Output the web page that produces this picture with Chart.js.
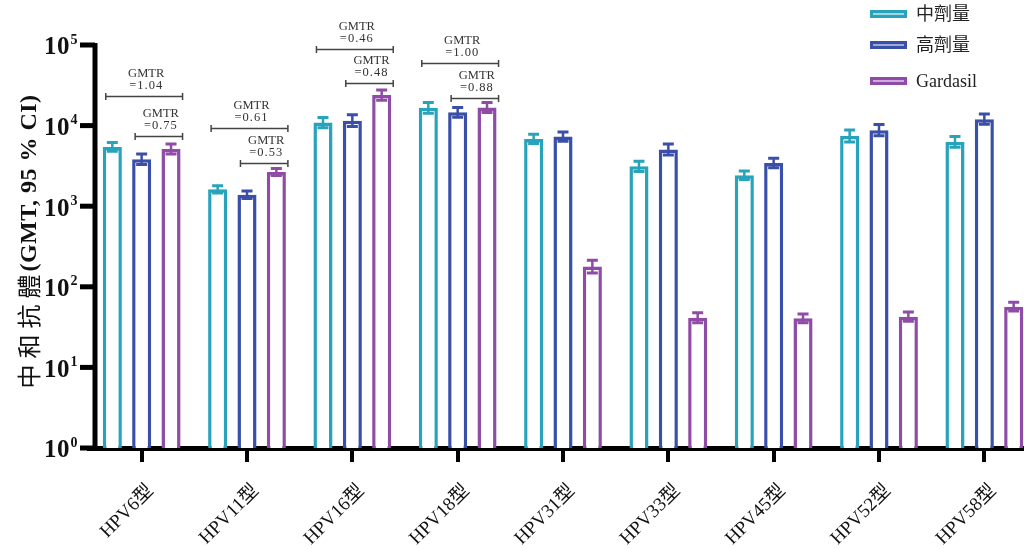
<!DOCTYPE html>
<html>
<head>
<meta charset="utf-8">
<script src="https://cdn.jsdelivr.net/npm/chart.js@4"></script>
<style>
  html, body { margin: 0; padding: 0; background: #fff; overflow: hidden; }
  #wrap { width: 1024px; height: 549px; overflow: hidden; }
</style>
</head>
<body>
<div id="wrap"><canvas id="chart" width="1040" height="549"></canvas></div>
<script>
// categories and series
const types = ['HPV6型', 'HPV11型', 'HPV16型', 'HPV18型', 'HPV31型', 'HPV33型', 'HPV45型', 'HPV52型', 'HPV58型'];
const seriesNames = ['中劑量', '高劑量', 'Gardasil'];

const midDose   = [5430, 1620, 10900, 16600, 6840, 3120, 2420, 7450, 6270];
const midHigh   = [6160, 1800, 12600, 19400, 7820, 3610, 2730, 8850, 7310];
const midLow    = [4790, 1460, 9430, 14200, 5980, 2700, 2150, 6270, 5380];

const highDose  = [3820, 1390, 11500, 14600, 7310, 5050, 3440, 8770, 12000];
const highHigh  = [4450, 1540, 13600, 16800, 8350, 5920, 3930, 10300, 13900];
const highLow   = [3280, 1250, 9720, 12700, 6400, 4310, 3010, 7470, 10360];

const gardasil  = [5130, 2660, 23900, 16800, 178, 41.4, 40.6, 42.6, 56.7];
const gardHigh  = [5920, 2930, 27600, 19400, 214, 47.7, 46, 48.7, 64.2];
const gardLow   = [4450, 2410, 20700, 14500, 148, 35.9, 35.8, 37.3, 50.1];

const yTicks = [1, 10, 100, 1000, 10000, 100000];

// GMTR comparisons: category, first series, last series, text, bracket level
const gmtrCategory = [0, 0, 1, 1, 2, 2, 3, 3];
const gmtrFrom     = [0, 1, 0, 1, 0, 1, 0, 1];
const gmtrTo       = [2, 2, 2, 2, 2, 2, 2, 2];
const gmtrText     = ['=1.04', '=0.75', '=0.61', '=0.53', '=0.46', '=0.48', '=1.00', '=0.88'];
const gmtrLevel    = [23000, 7450, 9360, 3475, 89100, 33960, 60260, 22120];

const colors = ['#27a3bb', '#3a4fa7', '#8f4ca6'];
const tints  = ['#9fd6e0', '#9fa9d6', '#cfa9dc'];
const errHigh = [midHigh, highHigh, gardHigh];
const errLow  = [midLow, highLow, gardLow];

const serif = "'Liberation Serif', 'Times New Roman'";
const cjk = "'Noto Sans CJK TC', 'Noto Sans CJK SC'";
const axisX = 95;   // where the vertical axis line sits

// error bars
const errorBars = {
  id: 'errorBars',
  afterDatasetsDraw(chart) {
    const ctx = chart.ctx, y = chart.scales.y;
    chart.data.datasets.forEach(function(ds, i) {
      const meta = chart.getDatasetMeta(i);
      ctx.save();
      ctx.strokeStyle = colors[i];
      meta.data.forEach(function(bar, j) {
        const yh = y.getPixelForValue(errHigh[i][j]);
        const yl = y.getPixelForValue(errLow[i][j]);
        ctx.lineWidth = 2.5;
        ctx.beginPath();
        ctx.moveTo(bar.x, yh); ctx.lineTo(bar.x, yl);
        ctx.stroke();
        ctx.lineWidth = 3;
        ctx.beginPath();
        ctx.moveTo(bar.x - 5.5, yh); ctx.lineTo(bar.x + 5.5, yh);
        ctx.moveTo(bar.x - 5.5, yl); ctx.lineTo(bar.x + 5.5, yl);
        ctx.stroke();
      });
      ctx.restore();
    });
  }
};

// GMTR brackets
const gmtrMarks = {
  id: 'gmtrMarks',
  afterDatasetsDraw(chart) {
    const ctx = chart.ctx, y = chart.scales.y;
    ctx.save();
    gmtrCategory.forEach(function(c, k) {
      const a = chart.getDatasetMeta(gmtrFrom[k]).data[c];
      const b = chart.getDatasetMeta(gmtrTo[k]).data[c];
      const x1 = a.x - a.width / 2 + 3;
      const x2 = b.x + b.width / 2 + 2;
      const yy = Math.round(y.getPixelForValue(gmtrLevel[k])) + 0.5;
      ctx.strokeStyle = '#444';
      ctx.lineWidth = 1.5;
      ctx.beginPath();
      ctx.moveTo(x1, yy); ctx.lineTo(x2, yy);
      ctx.moveTo(x1, yy - 3.5); ctx.lineTo(x1, yy + 3.5);
      ctx.moveTo(x2, yy - 3.5); ctx.lineTo(x2, yy + 3.5);
      ctx.stroke();
      const cx = (x1 + x2) / 2 + 2;
      ctx.fillStyle = '#333';
      ctx.textAlign = 'center';
      ctx.textBaseline = 'middle';
      ctx.font = '12.5px ' + serif + ', serif';
      ctx.fillText('GMTR', cx, yy - 23);
      ctx.letterSpacing = '1px';
      ctx.fillText(gmtrText[k], cx, yy - 11);
      ctx.letterSpacing = '0px';
    });
    ctx.restore();
  }
};

// vertical axis, y tick labels (10 with exponent), axis title and legend
const decorations = {
  id: 'decorations',
  afterDraw(chart) {
    const ctx = chart.ctx, y = chart.scales.y;
    const area = chart.chartArea;
    ctx.save();
    ctx.fillStyle = '#000';
    ctx.fillRect(axisX - 2.5, area.top - 2, 5, area.bottom - area.top + 4.5);
    yTicks.forEach(function(v) {
      const py = y.getPixelForValue(v);
      ctx.fillStyle = '#000';
      ctx.fillRect(80, py - 2.5, axisX - 80, 5);
      ctx.fillStyle = '#111';
      ctx.textBaseline = 'middle';
      ctx.textAlign = 'left';
      ctx.font = 'bold 25px ' + serif + ', serif';
      ctx.letterSpacing = '0.5px';
      ctx.fillText('10', 44, py + 3);
      ctx.letterSpacing = '0px';
      ctx.font = 'bold 14px ' + serif + ', serif';
      ctx.fillText(String(Math.round(Math.log10(v))), 70.5, py - 5);
    });

    // y axis title
    ctx.save();
    ctx.translate(29, 240);
    ctx.rotate(-Math.PI / 2);
    ctx.textBaseline = 'middle';
    ctx.textAlign = 'left';
    ctx.fillStyle = '#111';
    const part1 = '中和抗體';
    const part2 = '(GMT, 95 % CI)';
    ctx.font = '24px ' + cjk + ', sans-serif';
    ctx.letterSpacing = '6px';
    const w1 = ctx.measureText(part1).width;
    ctx.letterSpacing = '0.5px';
    ctx.font = 'bold 24px ' + serif + ', serif';
    const w2 = ctx.measureText(part2).width;
    const start = -(w1 + w2) / 2;
    ctx.font = '24px ' + cjk + ', sans-serif';
    ctx.letterSpacing = '6px';
    ctx.fillText(part1, start, 0);
    ctx.font = 'bold 24px ' + serif + ', serif';
    ctx.letterSpacing = '0.5px';
    ctx.fillText(part2, start + w1 - 3, 1);
    ctx.letterSpacing = '0px';
    ctx.restore();

    // legend
    const legendY = [14, 45, 81];
    chart.data.datasets.forEach(function(ds, i) {
      const ly = legendY[i];
      ctx.fillStyle = colors[i];
      ctx.fillRect(870, ly - 4, 37, 8);
      ctx.fillStyle = tints[i];
      ctx.fillRect(873, ly - 1, 31, 2);
      ctx.fillStyle = '#222';
      ctx.textAlign = 'left';
      ctx.textBaseline = 'middle';
      ctx.font = '18px ' + serif + ', ' + cjk + ', serif';
      ctx.fillText(ds.label, 916, ly + 1);
    });
    ctx.restore();
  }
};

const seriesValues = [midDose, highDose, gardasil];

new Chart(document.getElementById('chart'), {
  type: 'bar',
  data: {
    labels: types,
    datasets: seriesNames.map(function(name, i) {
      return {
        label: name,
        data: seriesValues[i],
        backgroundColor: '#ffffff',
        borderColor: colors[i],
        borderWidth: 3.5,
        borderSkipped: 'start',
        categoryPercentage: 0.836,
        barPercentage: 0.65
      };
    })
  },
  options: {
    responsive: false,
    animation: false,
    layout: { padding: { top: 45, right: 3, left: 0, bottom: 0 } },
    plugins: {
      legend: { display: false },
      tooltip: { enabled: false }
    },
    scales: {
      x: {
        afterFit: function(s) { s.height = 101; },
        grid: { drawOnChartArea: false, offset: false, color: '#000', lineWidth: 4, tickLength: 14 },
        border: { color: '#000', width: 5 },
        ticks: {
          color: '#111',
          minRotation: 45,
          maxRotation: 45,
          padding: 18,
          labelOffset: 9,
          font: { family: serif + ', ' + cjk + ', serif', size: 19 }
        }
      },
      y: {
        type: 'logarithmic',
        min: 1,
        max: 100000,
        afterFit: function(s) { s.width = 89; },
        afterBuildTicks: function(s) { s.ticks = yTicks.map(function(v) { return { value: v }; }); },
        grid: { display: false },
        border: { display: false },
        ticks: { display: false }
      }
    }
  },
  plugins: [errorBars, gmtrMarks, decorations]
});
</script>
</body>
</html>
